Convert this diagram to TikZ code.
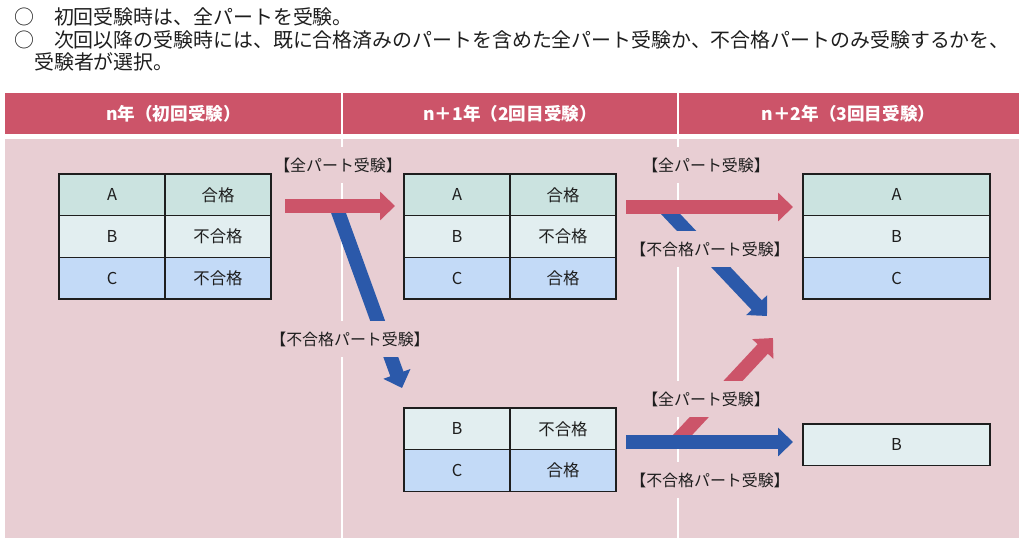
\documentclass[tikz,border=0pt]{standalone}
\usepackage{fontspec}
\setmainfont{Noto Sans CJK JP}
\usepackage{tikz}
\usetikzlibrary{positioning}
\usetikzlibrary{arrows.meta}
\definecolor{headred}{HTML}{CC5469}
\definecolor{bodypink}{HTML}{E8CED3}
\definecolor{rowA}{HTML}{CBE3E0}
\definecolor{rowB}{HTML}{E2EEF0}
\definecolor{rowC}{HTML}{C3DAF7}
\definecolor{arrowblue}{HTML}{2B59AA}
\definecolor{inkgray}{HTML}{1E1E1E}
\tikzset{
  cellbox/.style={draw=inkgray, line width=1.3pt, inner sep=0pt, outer sep=0pt, minimum width=3.18cm, minimum height=1.25cm, text=inkgray, font=\fontsize{14pt}{16pt}\selectfont},
  passlabel/.style={fill=bodypink, inner xsep=1pt, inner ysep=0pt, minimum height=1.08cm, text=inkgray, font=\fontsize{13.6pt}{16pt}\selectfont},
  yearlabel/.style={text=white, font=\fontsize{15pt}{17pt}\selectfont\bfseries},
  noteline/.style={anchor=west, inner sep=0pt, text=inkgray, font=\fontsize{17pt}{20pt}\selectfont},
  blockarrow/.style={line width=0.42cm, -{Triangle[length=0.45cm, width=0.84cm]}},
  sepline/.style={white, line width=0.05cm},
}
\newcommand{\tabrow}[6]{ \node[cellbox, fill=#4, anchor=north west] (#1l) at ( #2 , #3 ) {#5}; \node[cellbox, fill=#4, right=0pt of #1l] (#1r) {#6};}
\newcommand{\widecell}[5]{ \node[cellbox, fill=#4, minimum width=5.61cm, anchor=north west] (#1) at ( #2 , #3 ) {#5};}
\begin{document}
\begin{tikzpicture}[x=0.03cm, y=-0.03cm]
        \useasboundingbox (0,0) rectangle (1024,553);
        % notes
        \node[noteline] (note1) at (14,17) {○　初回受験時は、全パートを受験。};
        \node[noteline] (note2) at (14,40) {○　次回以降の受験時には、既に合格済みのパートを含めた全パート受験か、不合格パートのみ受験するかを、};
        \node[noteline] (note3) at (34,62) {受験者が選択。};
        % background
        \fill[headred] (5,93) rectangle (1019,134);
        \fill[bodypink] (5,139) rectangle (1019,538);
        \draw[sepline] (342,93) -- (342,538);
        \draw[sepline] (678,93) -- (678,538);
        \node[yearlabel] (year1) at (173.5,113.5) {n年（初回受験）};
        \node[yearlabel] (year2) at (510,113.5) {n＋1年（2回目受験）};
        \node[yearlabel] (year3) at (848.5,113.5) {n＋2年（3回目受験）};
        % table n
        \tabrow{ta}{59}{174}{rowA}{A}{合格}
        \tabrow{tb}{59}{215.7}{rowB}{B}{不合格}
        \tabrow{tc}{59}{257.4}{rowC}{C}{不合格}
        % table n+1 all
        \tabrow{ua}{404}{174}{rowA}{A}{合格}
        \tabrow{ub}{404}{215.7}{rowB}{B}{不合格}
        \tabrow{uc}{404}{257.4}{rowC}{C}{合格}
        % table n+1 fail
        \tabrow{vb}{404}{408}{rowB}{B}{不合格}
        \tabrow{vc}{404}{449.7}{rowC}{C}{合格}
        % table n+2
        \widecell{wa}{803}{174}{rowA}{A}
        \widecell{wb}{803}{215.7}{rowB}{B}
        \widecell{wc}{803}{257.4}{rowC}{C}
        \widecell{xb}{803}{424}{rowB}{B}
        % arrows
        \coordinate (r1s) at (285,206); \coordinate (r1e) at (395,206);
        \coordinate (b1s) at (336,206); \coordinate (b1e) at (402,388);
        \coordinate (r2s) at (626,207); \coordinate (r2e) at (793,207);
        \coordinate (b2s) at (663,206); \coordinate (b2e) at (767,316);
        \coordinate (r3s) at (676,442); \coordinate (r3e) at (773,338);
        \coordinate (b3s) at (626,442); \coordinate (b3e) at (793,442);
        \draw[blockarrow, arrowblue] (b1s) -- (b1e);
        \draw[blockarrow, arrowblue] (b2s) -- (b2e);
        \draw[blockarrow, headred] (r1s) -- (r1e);
        \draw[blockarrow, headred] (r2s) -- (r2e);
        \draw[blockarrow, headred] (r3s) -- (r3e);
        \draw[blockarrow, arrowblue] (b3s) -- (b3e);
        % labels
        \node[passlabel] (p1) at (338,165) {【全パート受験】};
        \node[passlabel] (p2) at (350,339) {【不合格パート受験】};
        \node[passlabel] (p3) at (706,165) {【全パート受験】};
        \node[passlabel] (p4) at (710,249) {【不合格パート受験】};
        \node[passlabel] (p5) at (706,399) {【全パート受験】};
        \node[passlabel] (p6) at (710,480) {【不合格パート受験】};
\end{tikzpicture}
\end{document}
